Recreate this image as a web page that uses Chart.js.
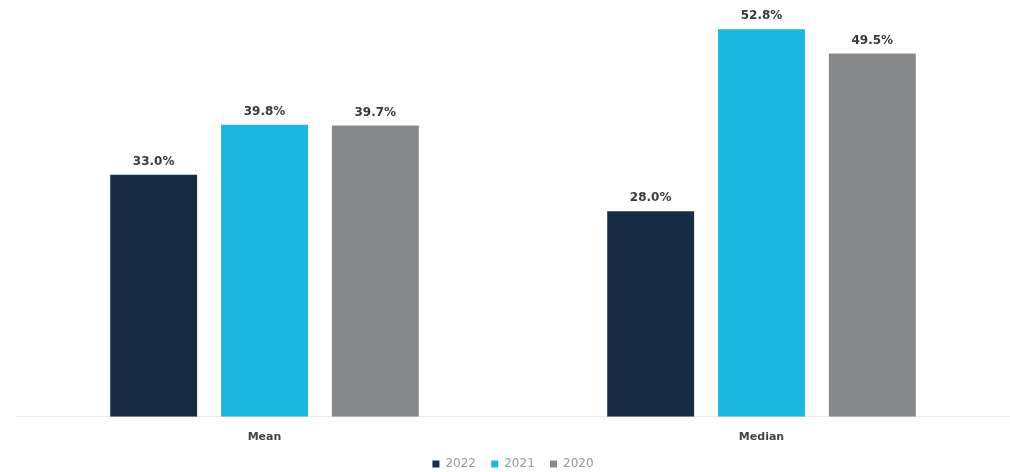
<!DOCTYPE html>
<html>
<head>
<meta charset="utf-8">
<script src="https://cdn.jsdelivr.net/npm/chart.js@4.4.1/dist/chart.umd.min.js"></script>
<style>
    html, body { margin: 0; padding: 0; background: #ffffff; }
    #wrap { position: relative; width: 1010px; height: 472px; }
</style>
</head>
<body>
<div id="wrap"><canvas id="payChart"></canvas></div>
<script>
// Chart data
const categories = ['Mean', 'Median'];
const seriesLabels = ['2022', '2021', '2020'];
const values2022 = [33.0, 28.0];
const values2021 = [39.8, 52.8];
const values2020 = [39.7, 49.5];
const seriesColors = ['#172b45', '#1bb9e1', '#86888a'];

// Draws the value above each bar
const valueLabels = {
    id: 'valueLabels',
    afterDatasetsDraw(chart) {
        const ctx = chart.ctx;
        ctx.save();
        ctx.font = 'bold 12px "DejaVu Sans", sans-serif';
        ctx.fillStyle = '#3a3a3a';
        ctx.textAlign = 'center';
        ctx.textBaseline = 'bottom';
        chart.data.datasets.forEach((ds, i) => {
            chart.getDatasetMeta(i).data.forEach((bar, j) => {
                ctx.fillText(ds.data[j].toFixed(1) + '%', bar.x, bar.y - 7);
            });
        });
        ctx.restore();
    }
};

const ctx = document.getElementById('payChart').getContext('2d');
new Chart(ctx, {
    type: 'bar',
    data: {
        labels: categories,
        datasets: [
            { label: seriesLabels[0], data: values2022, backgroundColor: seriesColors[0] },
            { label: seriesLabels[1], data: values2021, backgroundColor: seriesColors[1] },
            { label: seriesLabels[2], data: values2020, backgroundColor: seriesColors[2] }
        ]
    },
    options: {
        responsive: true,
        maintainAspectRatio: false,
        animation: false,
        categoryPercentage: 0.669,
        barPercentage: 0.784,
        layout: {
            padding: { left: 16, right: 0, top: 0, bottom: -8 }
        },
        scales: {
            x: {
                grid: { display: false, drawTicks: false },
                border: { display: true, color: '#ececec', width: 1 },
                ticks: {
                    color: '#444444',
                    padding: 14,
                    font: { family: '"DejaVu Sans", sans-serif', size: 11, weight: 'bold' }
                }
            },
            y: {
                display: false,
                min: 0,
                max: 56.8
            }
        },
        plugins: {
            tooltip: { enabled: false },
            legend: {
                position: 'bottom',
                labels: {
                    boxWidth: 7,
                    boxHeight: 7,
                    padding: 0,
                    color: '#9a9a9a',
                    font: { family: '"DejaVu Sans", sans-serif', size: 12 },
                    // trailing spaces give the gap between items
                    generateLabels(chart) {
                        const items = Chart.defaults.plugins.legend.labels.generateLabels(chart);
                        items.forEach((item, i) => {
                            if (i < items.length - 1) item.text += '    ';
                        });
                        return items;
                    }
                }
            }
        }
    },
    plugins: [valueLabels]
});
</script>
</body>
</html>
